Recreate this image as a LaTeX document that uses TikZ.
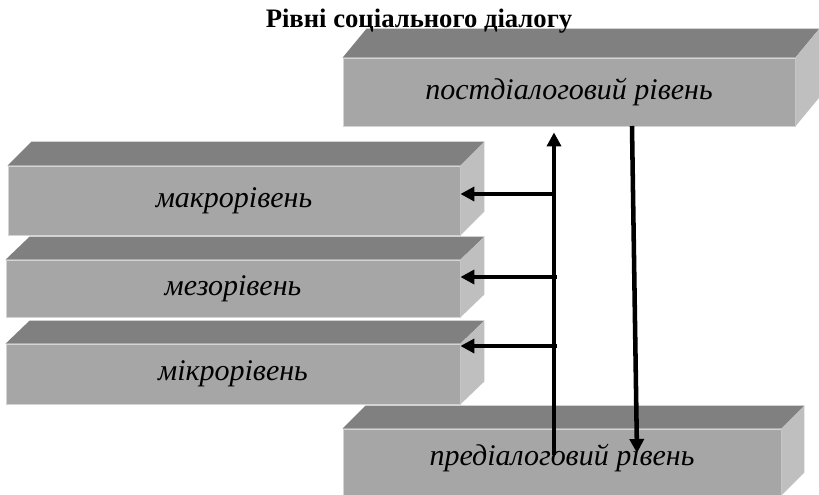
\documentclass[tikz,border=0pt]{standalone}
\usepackage{fontspec}
\setmainfont{Liberation Serif}
\usetikzlibrary{arrows.meta}
\definecolor{frontgray}{RGB}{166,166,166}
\definecolor{topgray}{RGB}{128,128,128}
\definecolor{sidegray}{RGB}{191,191,191}
\definecolor{edgegray}{RGB}{212,212,212}
\tikzset{
  level/.style={draw=edgegray,line width=0.6pt,fill=frontgray,inner sep=0pt,
    font=\fontsize{22.5}{26}\selectfont\itshape},
  topface/.style={fill=topgray,draw=none},
  sideface/.style={fill=sidegray,draw=none},
  arr/.style={line width=3.4pt,-{Triangle[length=10.5pt,width=10.5pt]}},
}
\begin{document}
\begin{tikzpicture}[x=0.75pt,y=-0.75pt]
\useasboundingbox (0,0) rectangle (819,494);
\clip (0,0) rectangle (819,494);
% front faces
\node[level,minimum width=339pt,minimum height=51pt] (post) at (569,92) {постдіалоговий рівень};
\node[level,minimum width=339pt,minimum height=51.75pt] (macro) at (234,200.5) {макрорівень};
\node[level,minimum width=340.5pt,minimum height=42.75pt] (meso) at (233,288.5) {мезорівень};
\node[level,minimum width=340.5pt,minimum height=45pt] (micro) at (233,374) {мікрорівень};
\node[level,minimum width=328.5pt,minimum height=49.5pt] (pre) at (562,462) {};
% top and right faces
\foreach \b/\dx/\dy in {post/24/29,macro/24/24,meso/24/23,micro/24/23,pre/23/23}{
  \draw[topface] (\b.north west) -- ([shift={(\dx,-\dy)}]\b.north west)
    -- ([shift={(\dx,-\dy)}]\b.north east) -- (\b.north east) -- cycle;
  \draw[sideface] (\b.north east) -- ([shift={(\dx,-\dy)}]\b.north east)
    -- ([shift={(\dx,-\dy)}]\b.south east) -- (\b.south east) -- cycle;
}
\node[font=\fontsize{22.5}{26}\selectfont\itshape] (pretext) at (562,458) {предіалоговий рівень};
% connectors
\coordinate (upfoot) at (554,455);
\coordinate (downhead) at (632,126);
\coordinate (downfoot) at (637,453);
\coordinate (jmacro) at (556,194);
\coordinate (jmeso) at (557,277);
\coordinate (jmicro) at (557,346);
\draw[arr,shorten >=4.5pt] (upfoot) -- (upfoot |- post.south);
\draw[arr] (downhead) -- (downfoot);
\draw[arr] (jmacro) -- (jmacro -| macro.east);
\draw[arr] (jmeso) -- (jmeso -| meso.east);
\draw[arr] (jmicro) -- (jmicro -| micro.east);
% title
\node[font=\fontsize{20}{24}\selectfont\bfseries,anchor=base] (title) at (419,27) {Рівні соціального діалогу};
\end{tikzpicture}
\end{document}
